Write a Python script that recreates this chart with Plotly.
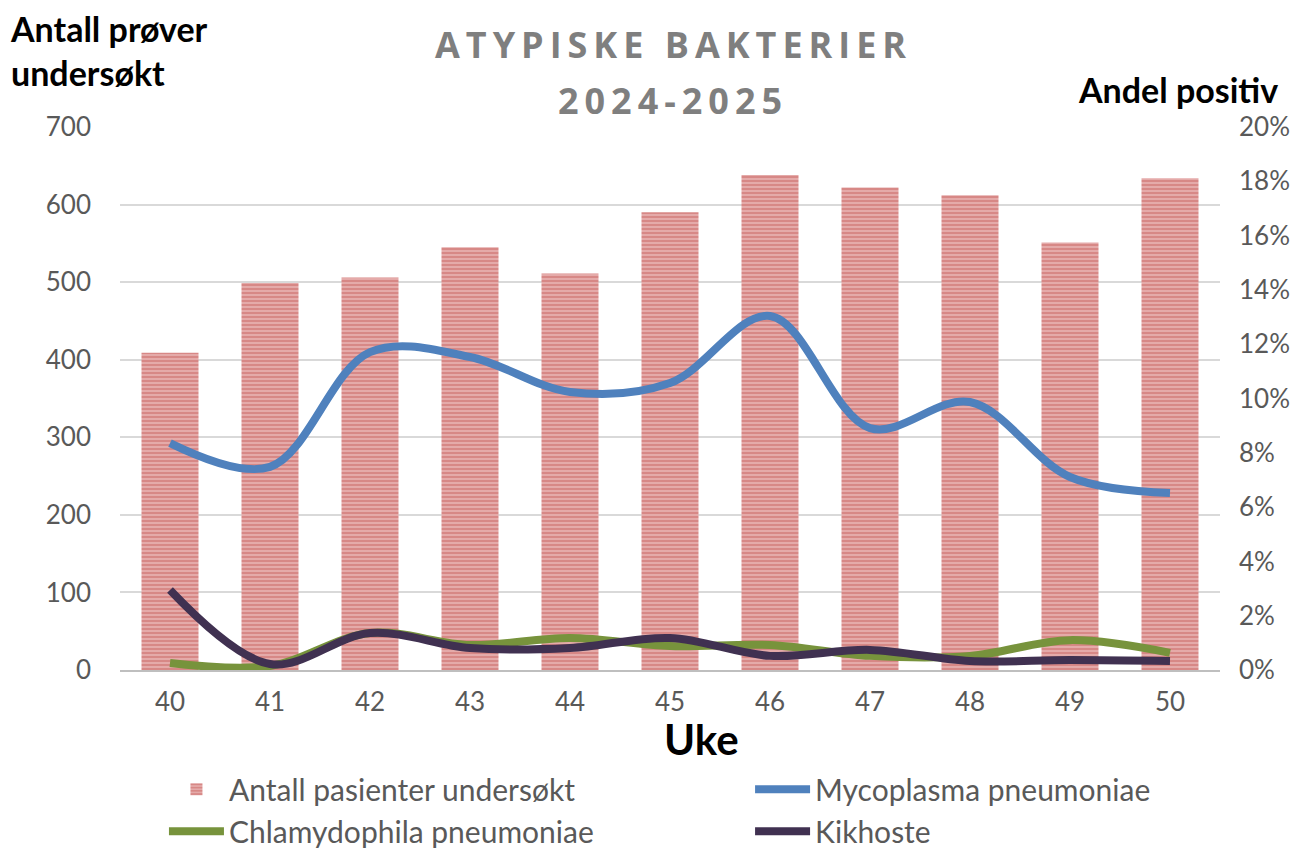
import plotly.graph_objects as go

weeks = ["40", "41", "42", "43", "44", "45", "46", "47", "48", "49", "50"]
antall = [409, 499, 506, 545, 511, 590, 638, 622, 612, 551, 634]
mycoplasma = [0.0836, 0.0748, 0.1171, 0.1153, 0.1024, 0.1057, 0.1304, 0.0891, 0.0987, 0.0711, 0.0652]
chlamydophila = [0.0026, 0.0015, 0.0136, 0.0092, 0.0118, 0.0088, 0.0092, 0.0052, 0.0052, 0.0110, 0.0063]
kikhoste = [0.0295, 0.0022, 0.0136, 0.0081, 0.0081, 0.0118, 0.0052, 0.0074, 0.0033, 0.0037, 0.0033]

left_ticks = [0, 100, 200, 300, 400, 500, 600, 700]
right_ticks = [0, 0.02, 0.04, 0.06, 0.08, 0.10, 0.12, 0.14, 0.16, 0.18, 0.20]

title_line1 = "ATYPISKE BAKTERIER"
title_line2 = "2024-2025"

FONT = "Lato"
GRAY = "#595959"


def spaced(s):
    return "\u2009".join(s)


fig = go.Figure()
fig.add_trace(go.Bar(
    x=weeks, y=antall, name="Antall pasienter undersøkt", legend="legend",
    marker=dict(color="#eec0bf", line=dict(width=0),
                pattern=dict(shape="-", fgcolor="#c0504d", bgcolor="#eec0bf", size=4, solidity=0.7)),
    yaxis="y",
))
fig.add_trace(go.Scatter(x=weeks, y=mycoplasma, name="Mycoplasma pneumoniae", mode="lines", legend="legend2",
                         line=dict(color="#4f81bd", width=8, shape="spline", smoothing=1), yaxis="y2"))
fig.add_trace(go.Scatter(x=weeks, y=chlamydophila, name="Chlamydophila pneumoniae", mode="lines", legend="legend",
                         line=dict(color="#77933c", width=8, shape="spline", smoothing=1), yaxis="y2"))
fig.add_trace(go.Scatter(x=weeks, y=kikhoste, name="Kikhoste", mode="lines", legend="legend2",
                         line=dict(color="#403151", width=8, shape="spline", smoothing=1), yaxis="y2"))

legend_common = dict(orientation="v", xref="container", yref="container", y=0.102,
                     xanchor="left", yanchor="top", itemwidth=55,
                     font=dict(size=30, color=GRAY), tracegroupgap=0, traceorder="normal",
                     bgcolor="rgba(0,0,0,0)")

fig.update_layout(
    width=1291, height=841,
    margin=dict(l=112, r=79, t=119, b=179, autoexpand=False),
    plot_bgcolor="white", paper_bgcolor="white",
    font=dict(family=FONT, color=GRAY, size=26),
    bargap=0.43,
    showlegend=True,
    xaxis=dict(type="category", showgrid=False, showline=True, linecolor="#bfbfbf", linewidth=2,
               ticks="", tickfont=dict(size=26, color=GRAY), ticklabelstandoff=8, automargin=False),
    yaxis=dict(range=[0, 700], tickvals=left_ticks, showgrid=True, gridcolor="#d9d9d9", gridwidth=1.5,
               zeroline=False, showline=False, ticks="", tickfont=dict(size=26, color=GRAY),
               ticklabelstandoff=28, automargin=False),
    yaxis2=dict(range=[0, 0.20], tickvals=right_ticks, tickformat=".0%", overlaying="y", side="right",
                showgrid=False, zeroline=False, showline=False, ticks="",
                tickfont=dict(size=26, color=GRAY), ticklabelstandoff=18, automargin=False),
    legend=dict(x=0.1208, **legend_common),
    legend2=dict(x=0.5748, **legend_common),
    annotations=[
        dict(text="<b>" + spaced(title_line1) + "</b>", xref="paper", yref="paper", x=0.5, y=1.0,
             xanchor="center", yanchor="bottom", yshift=56, showarrow=False,
             font=dict(size=36, color="#7f7f7f", family="Open Sans")),
        dict(text="<b>" + spaced(title_line2) + "</b>", xref="paper", yref="paper", x=0.5, y=1.0,
             xanchor="center", yanchor="bottom", yshift=0, showarrow=False,
             font=dict(size=36, color="#7f7f7f", family="Open Sans")),
        dict(text="<b>Antall prøver<br>undersøkt</b>", xref="paper", yref="paper", x=-0.1018, y=1.223,
             xanchor="left", yanchor="top", align="left", showarrow=False,
             font=dict(size=34, color="black", family=FONT)),
        dict(text="<b>Andel positiv</b>", xref="paper", yref="paper", x=1.0545, y=1.11,
             xanchor="right", yanchor="top", showarrow=False,
             font=dict(size=34, color="black", family=FONT)),
        dict(text="<b>Uke</b>", xref="paper", yref="paper", x=0.529, y=-0.127,
             xanchor="center", yanchor="middle", showarrow=False,
             font=dict(size=42, color="black", family=FONT)),
    ],
)

fig.write_html("out.html")
